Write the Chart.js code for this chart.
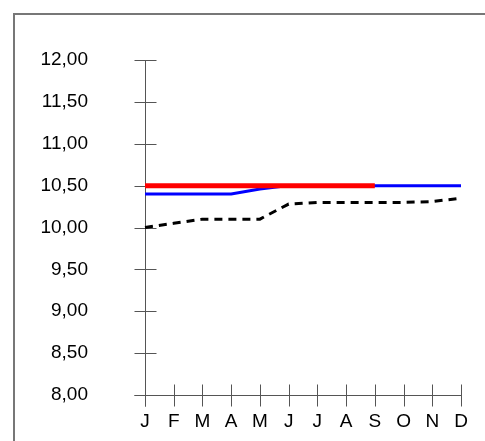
<!DOCTYPE html>
<html>
<head>
<meta charset="utf-8">
<script src="https://cdn.jsdelivr.net/npm/chart.js@4"></script>
<style>
  body { margin: 0; background: #fff; }
  #wrap { position: relative; width: 485px; height: 441px; overflow: hidden; }
  #frame { position: absolute; left: 13px; top: 13px; width: 600px; height: 600px;
           border-left: 2px solid #777; border-top: 2px solid #777; }
  canvas { position: absolute; left: 0; top: 0; }
</style>
</head>
<body>
<div id="wrap">
  <div id="frame"></div>
  <canvas id="chart" width="485" height="441"></canvas>
</div>
<script>
const months = ["J","F","M","A","M","J","J","A","S","O","N","D"];
const redSeries = [10.5, 10.5, 10.5, 10.5, 10.5, 10.5, 10.5, 10.5, 10.5, null, null, null];
const blueSeries = [10.4, 10.4, 10.4, 10.4, 10.46, 10.5, 10.5, 10.5, 10.5, 10.5, 10.5, 10.5];
const blackSeries = [10.0, 10.05, 10.1, 10.1, 10.1, 10.28, 10.3, 10.3, 10.3, 10.3, 10.31, 10.35];
const yMin = 8, yMax = 12, yStep = 0.5;

// axes with ticks that cross the axis line
const crossAxes = {
    id: 'crossAxes',
    beforeDatasetsDraw(chart) {
        const ctx = chart.ctx;
        const x = chart.scales.x, y = chart.scales.y;
        const left = Math.round(chart.chartArea.left) + 0.5;
        const bottom = Math.round(chart.chartArea.bottom) + 0.5;
        const top = Math.round(chart.chartArea.top);
        const right = Math.round(chart.chartArea.right);
        const t = 11;
        ctx.save();
        ctx.strokeStyle = '#555';
        ctx.lineWidth = 1;
        ctx.beginPath();
        ctx.moveTo(left, top);
        ctx.lineTo(left, bottom + t);
        ctx.moveTo(left - t, bottom);
        ctx.lineTo(right, bottom);
        y.ticks.forEach(tk => {
            const py = Math.round(y.getPixelForValue(tk.value)) + 0.5;
            ctx.moveTo(left - t, py);
            ctx.lineTo(left + t, py);
        });
        months.forEach((m, i) => {
            const px = Math.round(x.getPixelForValue(i)) + 0.5;
            ctx.moveTo(px, bottom - t);
            ctx.lineTo(px, bottom + t);
        });
        ctx.stroke();
        ctx.restore();
    }
};

new Chart(document.getElementById('chart'), {
    type: 'line',
    data: {
        labels: months,
        datasets: [
            { data: redSeries, borderColor: '#ff0000', borderWidth: 5 },
            { data: blueSeries, borderColor: '#0000ff', borderWidth: 3 },
            { data: blackSeries, borderColor: '#000000', borderWidth: 3, borderDash: [8, 6] }
        ]
    },
    options: {
        responsive: false,
        animation: false,
        layout: { padding: { top: 60, right: 24, bottom: 0, left: 0 } },
        elements: { point: { radius: 0 }, line: { tension: 0 } },
        plugins: { legend: { display: false }, tooltip: { enabled: false } },
        scales: {
            x: {
                // grid hidden; tickLength only spaces the labels
                grid: { display: false, drawTicks: true, tickLength: 15 },
                border: { display: false },
                ticks: { padding: 0, color: '#000', font: { family: 'Liberation Sans', size: 19 }, maxRotation: 0, autoSkip: false },
                afterFit(scale) { scale.height = 46; }
            },
            y: {
                min: yMin, max: yMax,
                grid: { display: false, drawTicks: true, tickLength: 57 },
                border: { display: false },
                ticks: {
                    stepSize: yStep, padding: 0, color: '#000',
                    font: { family: 'Liberation Sans', size: 19 },
                    callback: v => v.toFixed(2).replace('.', ',')
                },
                afterFit(scale) { scale.width = 145; }
            }
        }
    },
    plugins: [crossAxes]
});
</script>
</body>
</html>
